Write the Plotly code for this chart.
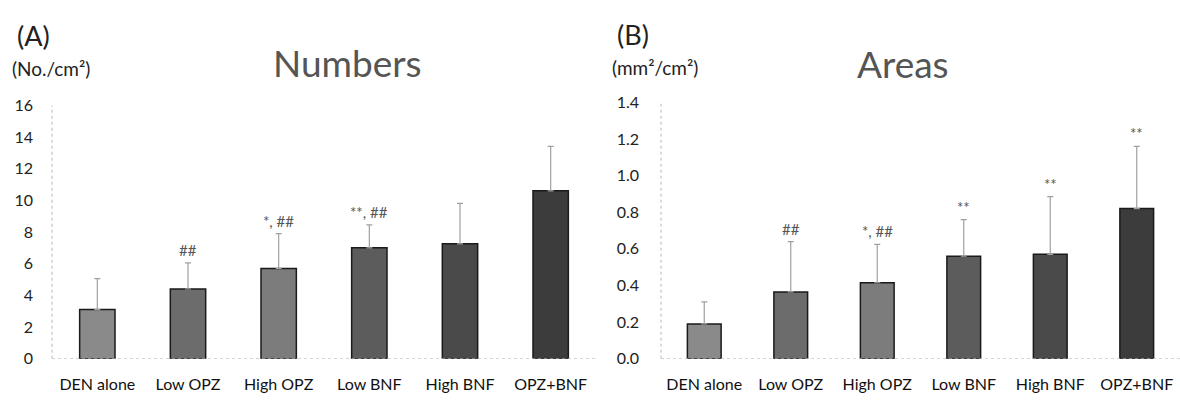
import plotly.graph_objects as go

categories = ["DEN alone", "Low OPZ", "High OPZ", "Low BNF", "High BNF", "OPZ+BNF"]

numbers_mean = [3.1, 4.4, 5.7, 7.0, 7.25, 10.6]
numbers_upper = [5.05, 6.05, 7.9, 8.45, 9.8, 13.4]
numbers_marks = ["", "##", "*, ##", "**, ##", "", ""]

areas_mean = [0.19, 0.365, 0.415, 0.56, 0.57, 0.82]
areas_upper = [0.31, 0.64, 0.625, 0.76, 0.885, 1.16]
areas_marks = ["", "##", "*, ##", "**", "**", "**"]

y_ticks_a = [0, 2, 4, 6, 8, 10, 12, 14, 16]
y_ticks_b = [0.0, 0.2, 0.4, 0.6, 0.8, 1.0, 1.2, 1.4]

bar_colors = ["#8a8a8a", "#6c6c6c", "#7c7c7c", "#5c5c5c", "#4a4a4a", "#3c3c3c"]

FONT = "Lato"
W, H = 1180, 402

def px_x(p):
    return p / W

def px_y(p):
    return 1 - p / H

fig = go.Figure()

for (mean, upper, xa, ya) in [(numbers_mean, numbers_upper, "x", "y"),
                              (areas_mean, areas_upper, "x2", "y2")]:
    fig.add_trace(go.Bar(
        x=categories, y=mean, xaxis=xa, yaxis=ya,
        marker=dict(color=bar_colors, line=dict(color="#1a1a1a", width=1.5)),
        width=0.39,
        error_y=dict(type="data", symmetric=False,
                     array=[u - m for u, m in zip(upper, mean)],
                     arrayminus=[0] * len(mean),
                     color="#a0a0a0", thickness=1.2, width=3),
        showlegend=False,
    ))

# significance marks
for cat, up, mk in zip(categories, numbers_upper, numbers_marks):
    if mk:
        fig.add_annotation(x=cat, y=up, xref="x", yref="y", text=mk, showarrow=False,
                           yanchor="bottom", yshift=2,
                           font=dict(family=FONT, size=15, color="#555"))
for cat, up, mk in zip(categories, areas_upper, areas_marks):
    if mk:
        fig.add_annotation(x=cat, y=up, xref="x2", yref="y2", text=mk, showarrow=False,
                           yanchor="bottom", yshift=2,
                           font=dict(family=FONT, size=15, color="#555"))

axis_common = dict(showgrid=False, zeroline=False, ticks="", showline=False,
                   tickfont=dict(family=FONT, size=16, color="#222"))
xaxis_common = dict(showgrid=False, zeroline=False, ticks="", showline=False,
                    tickfont=dict(family=FONT, size=16, color="#111"),
                    ticklabelstandoff=14)

fig.update_layout(
    width=W, height=H, margin=dict(l=0, r=0, t=0, b=0),
    paper_bgcolor="white", plot_bgcolor="white",
    xaxis=dict(domain=[px_x(52), px_x(596)], anchor="y", **xaxis_common),
    yaxis=dict(domain=[px_y(366), px_y(100)], anchor="x", range=[0, 16],
               tickvals=y_ticks_a, ticklabelstandoff=18, **axis_common),
    xaxis2=dict(domain=[px_x(661), 1.0], anchor="y2", range=[-0.5, 5.5],
                **xaxis_common),
    yaxis2=dict(domain=[px_y(366), px_y(97)], anchor="x2", range=[0, 1.4],
                tickvals=y_ticks_b, tickformat=".1f", ticklabelstandoff=21,
                **axis_common),
)

# faint dotted axis lines
for xr, yr, top in [("x domain", "y", 16), ("x2 domain", "y2", 1.4)]:
    fig.add_shape(type="line", xref=xr, yref=yr, x0=0, x1=0, y0=0, y1=top,
                  line=dict(color="#b8b8b8", width=1, dash="dot"))
    fig.add_shape(type="line", xref=xr, yref=yr, x0=0, x1=1, y0=0, y1=0,
                  line=dict(color="#b8b8b8", width=1, dash="dot"))

# panel texts
texts = [
    ("(A)", 15, 27, 27, "#222", "left"),
    ("(No./cm²)", 10, 61, 19, "#222", "left"),
    ("Numbers", 271, 55, 37, "#555", "left"),
    ("(B)", 615, 26, 27, "#222", "left"),
    ("(mm²/cm²)", 610, 60, 19, "#222", "left"),
    ("Areas", 855, 56, 37, "#555", "left"),
]
for t, x, y, s, c, al in texts:
    fig.add_annotation(x=px_x(x), y=px_y(y), xref="paper", yref="paper", text=t,
                       showarrow=False, xanchor=al, yanchor="middle",
                       font=dict(family=FONT, size=s, color=c))

fig.write_html("out.html",
               config={"displayModeBar": False},
               post_script="document.body.style.margin='0px';"
                           "document.body.style.overflow='hidden';")
